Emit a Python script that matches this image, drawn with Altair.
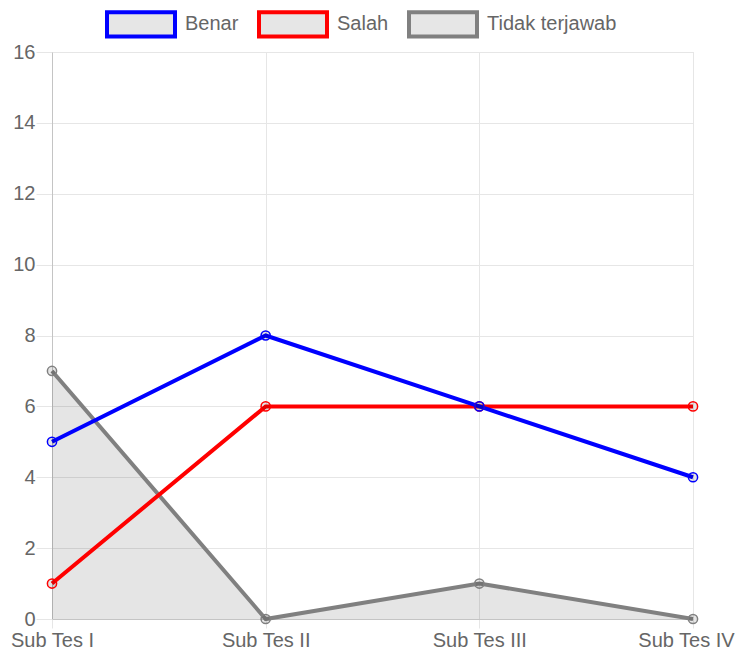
import altair as alt
import pandas as pd

categories = ["Sub Tes I", "Sub Tes II", "Sub Tes III", "Sub Tes IV"]
series_names = ["Benar", "Salah", "Tidak terjawab"]
benar = [5, 8, 6, 4]
salah = [1, 6, 6, 6]
tidak_terjawab = [7, 0, 1, 0]
series_colors = ["#0000ff", "#ff0000", "#808080"]
y_ticks = [0, 2, 4, 6, 8, 10, 12, 14, 16]

rows = []
# drawn back to front: Tidak terjawab, Salah, Benar (Benar on top)
for name, vals in [("Tidak terjawab", tidak_terjawab), ("Salah", salah), ("Benar", benar)]:
    for c, v in zip(categories, vals):
        rows.append({"cat": c, "series": name, "value": v})
df = pd.DataFrame(rows)

FONT = "Liberation Sans"
GRID = "#e6e6e6"
ZERO = "#c4c4c4"

x_enc = alt.X(
    "cat:N", sort=categories,
    scale=alt.Scale(type="point", padding=0),
    axis=alt.Axis(title=None, labelAngle=0, grid=True, gridColor=GRID, domainColor=ZERO,
                  tickColor=GRID, tickSize=9, labelPadding=2, labelFontSize=20,
                  labelColor="#666666", labelFont=FONT,
                  labelOffset={"condition": {"test": "datum.value === 'Sub Tes IV'", "value": -7}, "value": 0}),
)
y_enc = alt.Y(
    "value:Q",
    scale=alt.Scale(domain=[0, 16], nice=False, zero=True),
    axis=alt.Axis(title=None, values=y_ticks, grid=True, gridColor=GRID, domainColor=ZERO,
                  tickColor=GRID, tickSize=16, labelPadding=1, labelFontSize=20,
                  labelColor="#666666", labelFont=FONT),
)
color_scale = alt.Scale(domain=series_names, range=series_colors)

base = alt.Chart(df)

area = base.transform_filter(alt.datum.series == "Tidak terjawab").mark_area(
    color="#000000", opacity=0.1
).encode(x=x_enc, y=y_enc)

lines = base.mark_line(strokeWidth=4).encode(
    x=x_enc, y=y_enc,
    stroke=alt.Stroke(
        "series:N", scale=color_scale,
        legend=alt.Legend(
            title=None, orient="none", direction="horizontal", legendX=53, legendY=-64,
            symbolType="M-1,-0.36H1V0.36H-1Z", symbolSize=4624, symbolStrokeWidth=4,
            symbolFillColor="#e6e6e6", labelFontSize=20, labelColor="#666666",
            labelFont=FONT, labelOffset=8, columnPadding=12, padding=0,
        ),
    ),
    detail="series:N",
)

points = base.mark_point(filled=False, size=85, strokeWidth=1.5, fill="#000000", fillOpacity=0.1).encode(
    x=x_enc, y=y_enc,
    stroke=alt.Stroke("series:N", scale=color_scale, legend=None),
)

chart = alt.layer(area, lines, points).properties(
    width=641, height=567,
    autosize=alt.AutoSizeParams(type="none"),
    padding={"left": 44, "top": 44, "right": 43, "bottom": 31},
).configure_view(stroke=None).configure(background="#ffffff")

chart.save("out.html", embed_options={"renderer": "svg", "actions": False})
